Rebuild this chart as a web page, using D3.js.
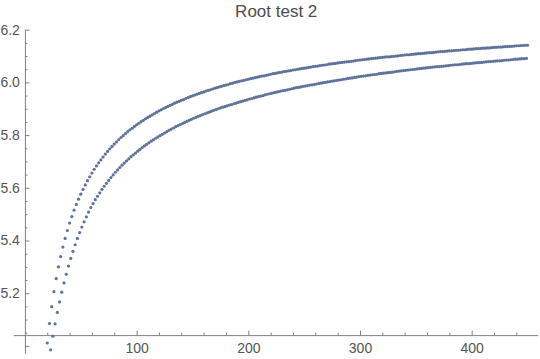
<!DOCTYPE html>
<html>
<head>
<meta charset="utf-8">
<script src="https://cdn.jsdelivr.net/npm/d3@7"></script>
<style>
  body { margin: 0; background: #fff; }
  svg { display: block; }
</style>
</head>
<body>
<svg id="chart" width="540" height="359"></svg>
<script>
// values, one point every 2 units of x
var upperX = d3.range(20, 451, 2);
var upperY = [
  5.011, 5.085, 5.149, 5.206, 5.255, 5.300, 5.339, 5.375, 5.408, 5.438,
  5.466, 5.491, 5.515, 5.537, 5.557, 5.576, 5.594, 5.611, 5.627, 5.642,
  5.656, 5.670, 5.683, 5.695, 5.706, 5.717, 5.728, 5.738, 5.748, 5.757,
  5.766, 5.774, 5.783, 5.791, 5.798, 5.806, 5.813, 5.820, 5.826, 5.833,
  5.839, 5.845, 5.851, 5.856, 5.862, 5.867, 5.872, 5.877, 5.882, 5.887,
  5.892, 5.896, 5.901, 5.905, 5.909, 5.913, 5.917, 5.921, 5.925, 5.928,
  5.932, 5.935, 5.939, 5.942, 5.946, 5.949, 5.952, 5.955, 5.958, 5.961,
  5.964, 5.967, 5.970, 5.972, 5.975, 5.978, 5.980, 5.983, 5.985, 5.988,
  5.990, 5.992, 5.995, 5.997, 6.000, 6.002, 6.004, 6.006, 6.008, 6.010,
  6.012, 6.014, 6.016, 6.018, 6.020, 6.022, 6.024, 6.025, 6.027, 6.029,
  6.031, 6.033, 6.034, 6.036, 6.038, 6.039, 6.041, 6.042, 6.044, 6.045,
  6.047, 6.048, 6.050, 6.051, 6.053, 6.054, 6.055, 6.057, 6.058, 6.060,
  6.061, 6.062, 6.064, 6.065, 6.066, 6.067, 6.069, 6.070, 6.071, 6.072,
  6.074, 6.075, 6.076, 6.077, 6.078, 6.079, 6.080, 6.081, 6.083, 6.084,
  6.085, 6.086, 6.087, 6.088, 6.089, 6.090, 6.091, 6.092, 6.093, 6.094,
  6.095, 6.096, 6.097, 6.097, 6.098, 6.099, 6.100, 6.101, 6.102, 6.103,
  6.104, 6.105, 6.105, 6.106, 6.107, 6.108, 6.109, 6.109, 6.110, 6.111,
  6.112, 6.113, 6.113, 6.114, 6.115, 6.116, 6.117, 6.117, 6.118, 6.119,
  6.120, 6.120, 6.121, 6.122, 6.122, 6.123, 6.124, 6.124, 6.125, 6.126,
  6.126, 6.127, 6.128, 6.128, 6.129, 6.130, 6.130, 6.131, 6.131, 6.132,
  6.133, 6.133, 6.134, 6.134, 6.135, 6.136, 6.136, 6.137, 6.137, 6.138,
  6.139, 6.139, 6.140, 6.140, 6.141, 6.141
];

var lowerX = d3.range(23, 450, 2);
var lowerY = [
  4.985, 5.037, 5.084, 5.127, 5.167, 5.204, 5.239, 5.272, 5.303, 5.332,
  5.359, 5.384, 5.408, 5.430, 5.451, 5.471, 5.490, 5.508, 5.525, 5.540,
  5.555, 5.568, 5.581, 5.594, 5.606, 5.617, 5.628, 5.639, 5.649, 5.659,
  5.668, 5.677, 5.686, 5.694, 5.702, 5.710, 5.718, 5.725, 5.732, 5.739,
  5.746, 5.753, 5.759, 5.765, 5.771, 5.777, 5.782, 5.788, 5.793, 5.798,
  5.803, 5.808, 5.813, 5.818, 5.823, 5.827, 5.832, 5.836, 5.840, 5.844,
  5.848, 5.852, 5.856, 5.860, 5.864, 5.867, 5.871, 5.874, 5.878, 5.881,
  5.884, 5.887, 5.891, 5.894, 5.897, 5.900, 5.903, 5.906, 5.908, 5.911,
  5.914, 5.916, 5.919, 5.921, 5.924, 5.927, 5.929, 5.932, 5.934, 5.937,
  5.939, 5.941, 5.944, 5.946, 5.948, 5.950, 5.953, 5.955, 5.957, 5.959,
  5.961, 5.963, 5.965, 5.967, 5.969, 5.970, 5.972, 5.974, 5.976, 5.978,
  5.980, 5.981, 5.983, 5.985, 5.986, 5.988, 5.990, 5.991, 5.992, 5.994,
  5.996, 5.997, 5.999, 6.000, 6.002, 6.003, 6.005, 6.006, 6.008, 6.009,
  6.010, 6.012, 6.013, 6.015, 6.016, 6.017, 6.019, 6.020, 6.022, 6.023,
  6.024, 6.025, 6.027, 6.028, 6.029, 6.030, 6.031, 6.033, 6.034, 6.035,
  6.036, 6.037, 6.038, 6.039, 6.040, 6.042, 6.043, 6.044, 6.045, 6.046,
  6.047, 6.048, 6.049, 6.050, 6.051, 6.052, 6.053, 6.054, 6.055, 6.056,
  6.057, 6.058, 6.059, 6.060, 6.060, 6.061, 6.062, 6.063, 6.064, 6.065,
  6.066, 6.067, 6.067, 6.068, 6.069, 6.070, 6.071, 6.071, 6.072, 6.073,
  6.074, 6.075, 6.075, 6.076, 6.077, 6.078, 6.079, 6.079, 6.080, 6.081,
  6.082, 6.082, 6.083, 6.084, 6.085, 6.085, 6.086, 6.087, 6.088, 6.088,
  6.089, 6.090, 6.090, 6.091
];

var xMajorTicks = [100, 200, 300, 400];
var xMinorTicks = [20, 40, 60, 80, 120, 140, 160, 180, 220, 240, 260, 280, 320, 340, 360, 380, 420, 440];
var yMajorTicks = [5.0, 5.2, 5.4, 5.6, 5.8, 6.0, 6.2];
var yMinorTicks = [5.05, 5.1, 5.15, 5.25, 5.3, 5.35, 5.45, 5.5, 5.55, 5.65, 5.7, 5.75,
                   5.85, 5.9, 5.95, 6.05, 6.1, 6.15];
var titleText = "Root test 2";

var FONT = "'Liberation Sans', Arial, sans-serif";
var AXIS_COLOR = "#808080";
var LABEL_COLOR = "#555555";
var POINT_COLOR = "#5f7399";

var svg = d3.select("#chart");

var xScale = d3.scaleLinear().domain([-10.4, 459]).range([13.3, 537.6]);
var yScale = d3.scaleLinear().domain([4.972, 6.2]).range([353.3, 29.7]);
var xAxisAt = 5.041; // where the horizontal axis crosses
var yAxisAt = 0;

function styleAxis(g){
    g.attr("font-family", FONT).attr("font-size", 14);
    g.select(".domain").attr("stroke", AXIS_COLOR);
    g.selectAll(".tick line").attr("stroke", AXIS_COLOR);
    g.selectAll(".tick text").attr("fill", LABEL_COLOR);
}

// x axis, ticks point up into the plot
svg.append("g")
    .attr("transform", "translate(0," + yScale(xAxisAt) + ")")
    .call(d3.axisBottom(xScale).tickValues(xMinorTicks).tickSizeInner(-2.5).tickSizeOuter(0).tickFormat(""))
    .call(function(g){ g.select(".domain").remove(); })
    .call(styleAxis);

svg.append("g")
    .attr("transform", "translate(0," + yScale(xAxisAt) + ")")
    .call(d3.axisBottom(xScale).tickValues(xMajorTicks).tickSizeInner(-4.5).tickSizeOuter(0).tickPadding(8))
    .call(styleAxis);

// y axis, ticks point right
svg.append("g")
    .attr("transform", "translate(" + xScale(yAxisAt) + ",0)")
    .call(d3.axisLeft(yScale).tickValues(yMinorTicks).tickSizeInner(-2.5).tickSizeOuter(0).tickFormat(""))
    .call(function(g){ g.select(".domain").remove(); })
    .call(styleAxis);

var fmt = d3.format(".1f");
svg.append("g")
    .attr("transform", "translate(" + xScale(yAxisAt) + ",0)")
    .call(d3.axisLeft(yScale).tickValues(yMajorTicks).tickSizeInner(-4.5).tickSizeOuter(0).tickPadding(5)
        .tickFormat(function(d){ return d < 5.04 ? "" : fmt(d); }))
    .call(styleAxis);

// the two point series
function drawSeries(xs, ys){
    var pts = d3.zip(xs, ys);
    svg.append("g").selectAll("circle")
        .data(pts)
        .enter().append("circle")
        .attr("cx", function(d){ return xScale(d[0]); })
        .attr("cy", function(d){ return yScale(d[1]); })
        .attr("r", 1.6)
        .attr("fill", POINT_COLOR);
}
drawSeries(upperX, upperY);
drawSeries(lowerX, lowerY);

svg.append("text")
    .attr("x", (xScale(0) + xScale(450)) / 2)
    .attr("y", 17)
    .attr("text-anchor", "middle")
    .attr("font-family", FONT)
    .attr("font-size", 17)
    .attr("fill", "#4d4d4d")
    .text(titleText);
</script>
</body>
</html>
